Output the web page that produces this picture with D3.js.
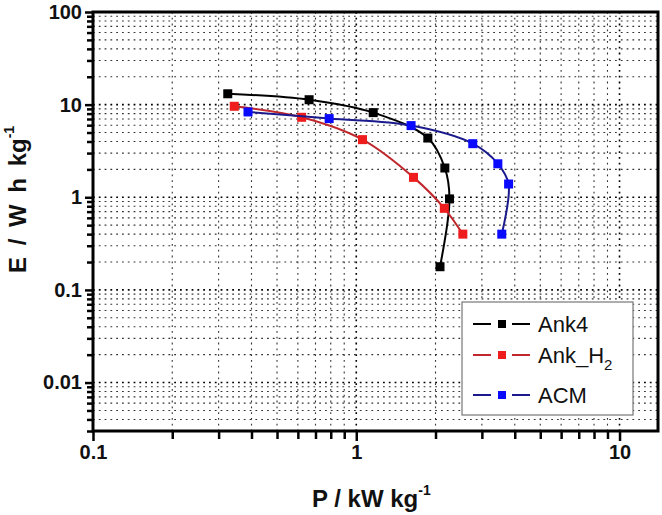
<!DOCTYPE html>
<html>
<head>
<meta charset="utf-8">
<script src="https://cdn.jsdelivr.net/npm/d3@7"></script>
<style>
  body { margin: 0; background: #fff; }
  text { font-family: "Liberation Sans", Arial, sans-serif; }
</style>
</head>
<body>
<svg id="chart" width="662" height="515"></svg>
<script>
// values (P in kW/kg, E in Wh/kg)
const ank4P = [0.325, 0.662, 1.16, 1.87, 2.17, 2.26, 2.08];
const ank4E = [13.1, 11.3, 8.2, 4.36, 2.07, 0.96, 0.178];
const ankH2P = [0.344, 0.62, 1.056, 1.65, 2.16, 2.54];
const ankH2E = [9.6, 7.3, 4.19, 1.64, 0.76, 0.40];
const acmP = [0.388, 0.789, 1.615, 2.77, 3.45, 3.79, 3.57];
const acmE = [8.34, 7.07, 5.94, 3.79, 2.30, 1.39, 0.40];

const xTickLabels = ["0.1", "1", "10"];
const yTickLabels = ["0.01", "0.1", "1", "10", "100"];

const series = [
  { name: "Ank4", p: ank4P, e: ank4E, line: "#000", mark: "#000" },
  { name: "Ank_H", sub: "2", p: ankH2P, e: ankH2E, line: "#c0282d", mark: "#ee1c1c" },
  { name: "ACM", p: acmP, e: acmE, line: "#1a1a8c", mark: "#0a0aff" }
];

const mLeft = 93, mRight = 658, mTop = 12, mBottom = 431;
const svg = d3.select("#chart");

const x = d3.scaleLog().domain([0.1, 14]).range([mLeft, mRight]);
const y = d3.scaleLog().domain([0.003, 100]).range([mBottom, mTop]);

// minor/major tick values
const xMinor = [], yMinor = [];
[0.1, 1, 10].forEach(d => { for (let k = 1; k < 10; k++) if (d * k <= 14) xMinor.push(+(d * k).toPrecision(3)); });
[0.001, 0.01, 0.1, 1, 10].forEach(d => { for (let k = 1; k < 10; k++) { const v = +(d * k).toPrecision(3); if (v >= 0.003 && v <= 100) yMinor.push(v); } });
yMinor.push(100);
const xMajor = xTickLabels.map(Number), yMajor = yTickLabels.map(Number);

// grid
const grid = svg.append("g");
grid.selectAll(".gx").data(xMinor.filter(v => v > 0.1)).enter().append("line")
  .attr("x1", d => x(d)).attr("x2", d => x(d)).attr("y1", mTop).attr("y2", mBottom)
  .attr("stroke", d => xMajor.includes(d) ? "#000" : "#333")
  .attr("stroke-width", d => xMajor.includes(d) ? 1.6 : 1.1)
  .attr("stroke-dasharray", "1.8,4");
grid.selectAll(".gy").data(yMinor.filter(v => v > 0.003 && v < 100)).enter().append("line")
  .attr("y1", d => y(d)).attr("y2", d => y(d)).attr("x1", mLeft).attr("x2", mRight)
  .attr("stroke", d => yMajor.includes(d) ? "#000" : "#333")
  .attr("stroke-width", d => yMajor.includes(d) ? 1.6 : 1.1)
  .attr("stroke-dasharray", "1.8,4");

// frame
svg.append("rect").attr("x", mLeft).attr("y", mTop).attr("width", mRight - mLeft).attr("height", mBottom - mTop)
  .attr("fill", "none").attr("stroke", "#000").attr("stroke-width", 3);

// axes
const xAxis = svg.append("g").attr("transform", `translate(0,${mBottom})`)
  .call(d3.axisBottom(x).tickValues(xMinor).tickFormat(d => xMajor.includes(d) ? d3.format("~g")(d) : "")
    .tickSize(8).tickPadding(6));
xAxis.select(".domain").remove();
xAxis.selectAll(".tick line").attr("stroke-width", 2.5).attr("y2", d => xMajor.includes(d) ? 10 : 8);
xAxis.selectAll(".tick text").attr("font-size", 20).attr("font-weight", "bold").attr("fill", "#111")
  .attr("font-family", "Liberation Sans, Arial, sans-serif");

const yAxis = svg.append("g").attr("transform", `translate(${mLeft},0)`)
  .call(d3.axisLeft(y).tickValues(yMinor).tickFormat(d => yMajor.includes(d) ? d3.format("~g")(d) : "")
    .tickSize(6).tickPadding(5));
yAxis.select(".domain").remove();
yAxis.selectAll(".tick line").attr("stroke-width", 2.5).attr("x2", d => yMajor.includes(d) ? -8 : -6);
yAxis.selectAll(".tick text").attr("font-size", 20).attr("font-weight", "bold").attr("fill", "#111")
  .attr("font-family", "Liberation Sans, Arial, sans-serif");

// curves
const line = d3.line().curve(d3.curveCatmullRom.alpha(0.5));
series.forEach(s => {
  const pts = s.p.map((p, i) => [x(p), y(s.e[i])]);
  svg.append("path").attr("d", line(pts)).attr("fill", "none")
    .attr("stroke", s.line).attr("stroke-width", 2);
  svg.append("g").selectAll("rect").data(pts).enter().append("rect")
    .attr("x", d => d[0] - 4.5).attr("y", d => d[1] - 4.5)
    .attr("width", 9).attr("height", 9).attr("fill", s.mark);
});

// axis titles
const xt = svg.append("text").attr("x", 312).attr("y", 507)
  .attr("font-size", 24).attr("font-weight", "bold").attr("fill", "#111");
xt.append("tspan").text("P / kW kg");
xt.append("tspan").attr("dy", -12).attr("font-size", 14).text("-1");

const yt = svg.append("text").attr("transform", "translate(26,273) rotate(-90)")
  .attr("font-size", 24).attr("font-weight", "bold").attr("fill", "#111").attr("word-spacing", 5);
yt.append("tspan").text("E / W h kg");
yt.append("tspan").attr("dy", -12).attr("font-size", 14).attr("word-spacing", 0).text("-1");

// legend
const lg = svg.append("g");
lg.append("rect").attr("x", 462).attr("y", 302).attr("width", 171).attr("height", 113)
  .attr("fill", "#fff").attr("stroke", "#777").attr("stroke-width", 1.2);
const rowY = [324, 355, 395];
series.forEach((s, i) => {
  const g = lg.append("g").attr("transform", `translate(0,${rowY[i]})`);
  g.append("line").attr("x1", 473).attr("x2", 491).attr("stroke", s.line).attr("stroke-width", 2);
  g.append("line").attr("x1", 512).attr("x2", 530).attr("stroke", s.line).attr("stroke-width", 2);
  g.append("rect").attr("x", 498).attr("y", -4).attr("width", 8).attr("height", 8).attr("fill", s.mark);
  const t = g.append("text").attr("x", 538).attr("y", 8).attr("font-size", 22).attr("fill", "#111");
  t.append("tspan").text(s.name);
  if (s.sub) t.append("tspan").attr("dy", 7).attr("font-size", 15).text(s.sub);
});
</script>
</body>
</html>
